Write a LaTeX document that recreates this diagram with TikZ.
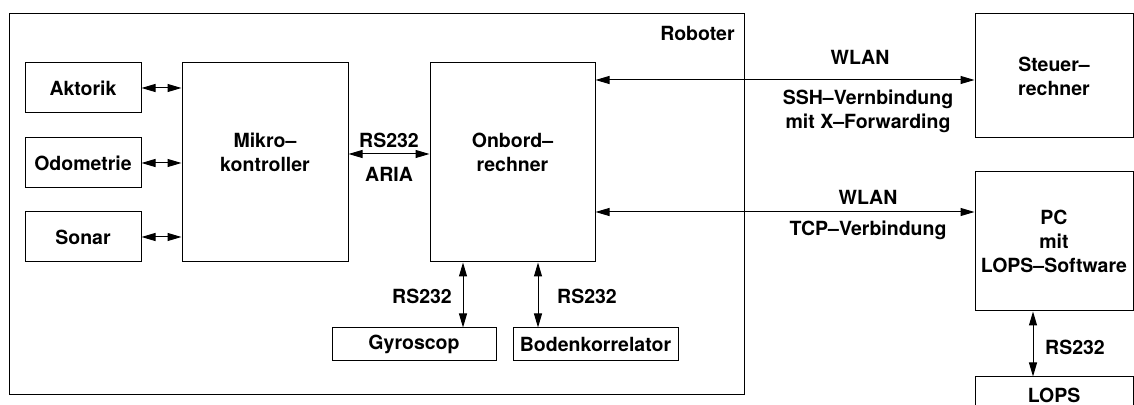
\documentclass[tikz,border=0pt]{standalone}
\usepackage{fontspec}
\setmainfont{TeX Gyre Heros}
\usetikzlibrary{arrows.meta}
\begin{document}
\begin{tikzpicture}[x=0.5pt,y=-0.5pt,
  every node/.style={font=\fontsize{9.75}{12}\selectfont\bfseries},
  box/.style={draw=black,line width=0.5pt,inner sep=0pt,align=center},
  lbl/.style={inner sep=0pt,align=center},
  conn/.style={line width=0.5pt,{Triangle[length=7pt,width=4pt]}-{Triangle[length=7pt,width=4pt]}}]
\useasboundingbox (0,0) rectangle (1134,405);
% Robot frame
\node[box,minimum width=367.5pt,minimum height=190pt] (rob) at (376.5,204) {};
\node[lbl,anchor=east] (roblbl) at (735,33) {Roboter};
% left column
\node[box,minimum width=58pt,minimum height=25pt] (akt) at (83,88) {Aktorik};
\node[box,minimum width=58pt,minimum height=25pt] (odo) at (83,163) {Odometrie};
\node[box,minimum width=58pt,minimum height=25pt] (son) at (83,237) {Sonar};
% micro & onboard
\node[box,minimum width=83pt,minimum height=99.5pt] (mik) at (265,162.5) {};
\node[lbl] (miktxt) at (265,152) {Mikro–\\kontroller};
\node[box,minimum width=82.5pt,minimum height=99.5pt] (onb) at (512.5,162.5) {};
\node[lbl] (onbtxt) at (512.5,152) {Onbord–\\rechner};
% sensors
\node[box,minimum width=82pt,minimum height=16.5pt] (gyr) at (414,344.5) {Gyroscop};
\node[box,minimum width=82.5pt,minimum height=16.5pt] (bod) at (595.5,344.5) {Bodenkorrelator};
% right side
\node[box,minimum width=79pt,minimum height=62pt] (ste) at (1054,76) {Steuer–\\rechner};
\node[box,minimum width=79pt,minimum height=69.5pt] (pc) at (1054,241.5) {PC\\mit\\LOPS–Software};
\node[box,minimum width=79pt,minimum height=31.5pt] (lops) at (1054,408.5) {};
\node[lbl] (lopstxt) at (1054,395) {LOPS};
% connectors
\draw[conn] (akt.east) -- (akt.east -| mik.west);
\draw[conn] (odo.east) -- (odo.east -| mik.west);
\draw[conn] (son.east) -- (son.east -| mik.west);
\coordinate (c1) at (0,154);
\draw[conn] (mik.east |- c1) -- (onb.west |- c1);
\node[lbl] (rs1) at (389,140) {RS232};
\node[lbl] (aria) at (389,174) {ARIA};
\coordinate (c2) at (463,0);
\coordinate (c3) at (538,0);
\draw[conn] (onb.south -| c2) -- (gyr.north -| c2);
\draw[conn] (onb.south -| c3) -- (bod.north -| c3);
\node[lbl] (rs2) at (422,296) {RS232};
\node[lbl] (rs3) at (587,296) {RS232};
\coordinate (c4) at (0,80);
\coordinate (c5) at (0,212);
\draw[conn] (onb.east |- c4) -- (ste.west |- c4);
\draw[conn] (onb.east |- c5) -- (pc.west |- c5);
\node[lbl] (wl1) at (860,57) {WLAN};
\node[lbl] (ssh) at (868,111.5) {SSH–Vernbindung\\mit X–Forwarding};
\node[lbl] (wl2) at (868,197) {WLAN};
\node[lbl] (tcp) at (868,230) {TCP–Verbindung};
\coordinate (c6) at (1033,0);
\draw[conn] (pc.south -| c6) -- (lops.north -| c6);
\node[lbl] (rs4) at (1075,347) {RS232};
\end{tikzpicture}
\end{document}
